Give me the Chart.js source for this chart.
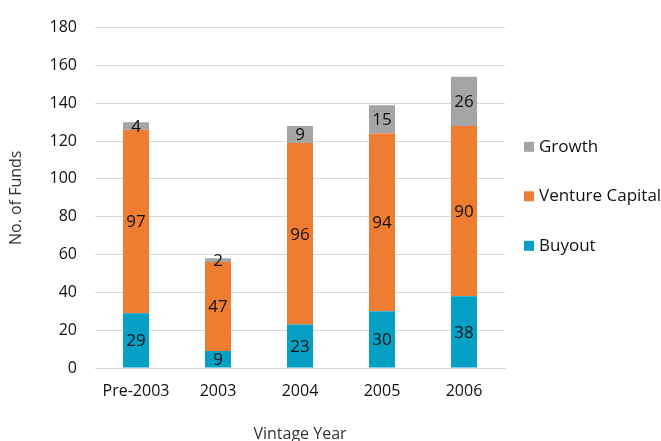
<!DOCTYPE html>
<html>
<head>
<meta charset="utf-8">
<script src="https://cdn.jsdelivr.net/npm/chart.js@4/dist/chart.umd.min.js"></script>
<style>
  html, body { margin: 0; padding: 0; background: #ffffff; overflow: hidden; }
  #wrap { width: 661px; height: 441px; overflow: hidden; }
  canvas { display: block; }
</style>
</head>
<body>
<div id="wrap"><canvas id="chart" width="661" height="452"></canvas></div>
<script>
// Number of funds per vintage year, split by strategy
const vintageYears = ['Pre-2003', '2003', '2004', '2005', '2006'];
const buyout = [29, 9, 23, 30, 38];
const ventureCapital = [97, 47, 96, 94, 90];
const growth = [4, 2, 9, 15, 26];
const yTicks = [0, 20, 40, 60, 80, 100, 120, 140, 160, 180];

const FONT = '"Open Sans", "Noto Sans", sans-serif';
const TEXT = '#111111';

// Writes each segment's value in the middle of its bar piece
const segmentLabels = {
  id: 'segmentLabels',
  afterDatasetsDraw(chart) {
    const ctx = chart.ctx;
    ctx.save();
    ctx.font = '17px ' + FONT;
    ctx.fillStyle = TEXT;
    ctx.textAlign = 'center';
    ctx.textBaseline = 'middle';
    chart.data.datasets.forEach((ds, di) => {
      const meta = chart.getDatasetMeta(di);
      meta.data.forEach((bar, i) => {
        const v = ds.data[i];
        if (!v) return;
        ctx.fillText(String(v), bar.x, (bar.y + bar.base) / 2 + 1);
      });
    });
    ctx.restore();
  }
};

// Legend to the right of the plot, top entry = last stacked series
const sideLegend = {
  id: 'sideLegend',
  afterDraw(chart) {
    const ctx = chart.ctx;
    const area = chart.chartArea;
    const items = chart.data.datasets.slice().reverse();
    const gap = 49.5;
    const midY = (area.top + area.bottom) / 2 - 1.5;
    const x0 = area.right + 19;
    ctx.save();
    ctx.font = '17px ' + FONT;
    ctx.textBaseline = 'middle';
    ctx.textAlign = 'left';
    items.forEach((ds, k) => {
      const cy = midY + (k - (items.length - 1) / 2) * gap;
      ctx.fillStyle = ds.backgroundColor;
      ctx.fillRect(x0, cy - 5, 10, 10);
      ctx.fillStyle = TEXT;
      ctx.fillText(ds.label, x0 + 15, cy);
    });
    ctx.restore();
  }
};

new Chart(document.getElementById('chart'), {
  type: 'bar',
  data: {
    labels: vintageYears,
    datasets: [
      { label: 'Buyout', data: buyout, backgroundColor: '#07a0c5' },
      { label: 'Venture Capital', data: ventureCapital, backgroundColor: '#ee7d31' },
      { label: 'Growth', data: growth, backgroundColor: '#a5a5a5' }
    ]
  },
  options: {
    responsive: false,
    animation: false,
    devicePixelRatio: 1,
    layout: { padding: { top: 20, right: 156, left: 0, bottom: 0 } },
    datasets: {
      bar: { categoryPercentage: 1, barPercentage: 0.317, borderWidth: 0 }
    },
    plugins: {
      legend: { display: false },
      tooltip: { enabled: false }
    },
    scales: {
      x: {
        stacked: true,
        grid: { display: false, drawTicks: false },
        border: { display: true, color: '#d9d9d9', width: 1 },
        ticks: { color: TEXT, font: { family: FONT, size: 16 }, padding: 14 },
        title: {
          display: true,
          text: 'Vintage Year',
          color: '#333333',
          font: { family: FONT, size: 16 },
          padding: { top: 0, bottom: 8 }
        },
        afterFit(scale) { scale.height = 84; }
      },
      y: {
        stacked: true,
        min: 0,
        max: 180,
        afterBuildTicks(scale) { scale.ticks = yTicks.map(v => ({ value: v })); },
        grid: { color: '#d9d9d9', lineWidth: 1, drawTicks: false },
        border: { display: false },
        ticks: { color: TEXT, font: { family: FONT, size: 16 }, padding: 18 },
        title: {
          display: true,
          text: 'No. of Funds',
          color: '#333333',
          font: { family: FONT, size: 16 },
          padding: { top: 7, bottom: 0 }
        },
        afterFit(scale) { scale.width = 95; }
      }
    }
  },
  plugins: [segmentLabels, sideLegend]
});
</script>
</body>
</html>
